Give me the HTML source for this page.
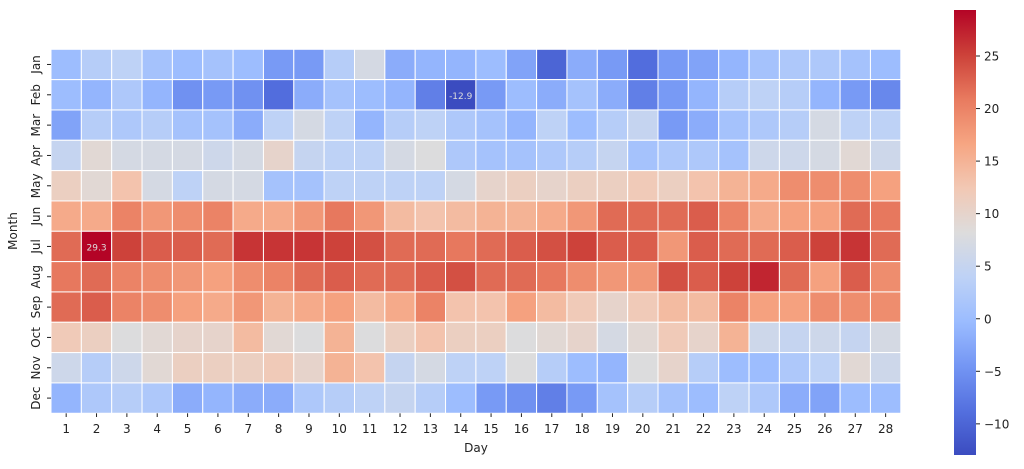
<!DOCTYPE html>
<html><head><meta charset="utf-8"><style>
html,body{margin:0;padding:0;background:#fff;}
svg text{font-family:"DejaVu Sans","Liberation Sans",sans-serif;fill:#222;}
</style></head><body>
<svg id="s" width="1024" height="464" xmlns="http://www.w3.org/2000/svg">
<defs>
<linearGradient id="cb" x1="0" y1="1" x2="0" y2="0">
<stop offset="0" stop-color="rgb(59,76,192)"/>
<stop offset="0.1" stop-color="rgb(84,112,223)"/>
<stop offset="0.2" stop-color="rgb(116,150,244)"/>
<stop offset="0.3" stop-color="rgb(155,188,255)"/>
<stop offset="0.4" stop-color="rgb(190,210,246)"/>
<stop offset="0.5" stop-color="rgb(221,220,220)"/>
<stop offset="0.6" stop-color="rgb(242,200,180)"/>
<stop offset="0.7" stop-color="rgb(246,165,130)"/>
<stop offset="0.8" stop-color="rgb(232,122,95)"/>
<stop offset="0.9" stop-color="rgb(204,65,57)"/>
<stop offset="1" stop-color="rgb(180,4,38)"/>
</linearGradient>
</defs>
<g id="cells"></g>
<rect x="954" y="10" width="22" height="445" fill="url(#cb)"/>
<g id="ax"></g>
<text x="476" y="452" font-size="12" text-anchor="middle">Day</text>
<text transform="translate(17,231) rotate(-90)" font-size="12" text-anchor="middle">Month</text>
</svg>
<script>
var D=[
[0,3,4,1,0,1,0,-4,-4,3,7,-2,-1,-1,0,-3,-10,-2,-4,-9,-4,-3,-1,1,2,2,1,0],
[0,-1,2,-1,-5,-4,-5,-9,-2,1,0,-1,-7,-12.9,-4,0,-2,1,-2,-7,-4,-1,3,4,3,-1,-4,-6],
[-3,3,2,3,1,1,-2,4,7,4,-1,3,4,2,1,-1,4,0,3,5,-4,-2,1,2,3,7,4,4],
[5,9,7,7,7,6,7,10,5,4,4,7,8,2,1,1,2,3,5,1,2,2,1,6,6,7,9,6],
[11,9,13,7,4,7,7,1,1,4,4,4,4,7,10,11,10,11,11,12,11,13,15,16,19,19,19,17],
[16,16,20,18,19,20,16,16,18,21,18,14,13,14,15,15,16,18,22,22,22,23,20,16,17,17,22,21],
[22,29.3,25,23,23,22,26,26,26,25,24,22,22,21,22,23,24,25,23,23,18,23,22,22,23,25,26,22],
[21,22,20,19,18,17,19,20,22,23,22,22,23,24,22,22,21,19,18,18,24,23,25,27,22,17,23,19],
[22,23,20,19,17,16,18,15,16,17,14,16,20,13,13,17,14,12,10,12,14,14,20,17,17,19,19,19],
[12,11,8,9,10,10,14,9,8,15,8,11,13,11,11,8,9,10,7,9,12,10,15,6,5,6,5,7],
[6,3,6,9,11,11,11,12,10,15,13,5,7,4,4,8,3,0,-1,8,10,3,0,0,2,4,9,6],
[-1,2,3,2,-2,-1,-2,-2,2,3,4,5,3,0,-4,-5,-7,-4,1,3,1,0,4,2,-2,-3,0,0]];
var C=[[59,76,192],[84,112,223],[116,150,244],[155,188,255],[190,210,246],[221,220,220],[242,200,180],[246,165,130],[232,122,95],[204,65,57],[180,4,38]];
function col(v){var t=(v+12.9)/42.2;t=Math.max(0,Math.min(1,t))*10;var i=Math.min(9,Math.floor(t)),f=t-i;var a=C[i],b=C[i+1];return 'rgb('+[0,1,2].map(k=>Math.round(a[k]+(b[k]-a[k])*f)).join(',')+')';}
var x0=51,y0=49.3,w=30.35,h=30.33,s='',a='';
var M=['Jan','Feb','Mar','Apr','May','Jun','Jul','Aug','Sep','Oct','Nov','Dec'];
for(var r=0;r<12;r++)for(var c=0;c<28;c++){s+='<rect x="'+(x0+c*w)+'" y="'+(y0+r*h)+'" width="'+w+'" height="'+h+'" fill="'+col(D[r][c])+'" stroke="#fff" stroke-width="1"/>';}
s+='<text x="'+(x0+13.5*w)+'" y="'+(y0+1.5*h+4)+'" font-size="9" text-anchor="middle" style="fill:#ddd">-12.9</text>';
s+='<text x="'+(x0+1.5*w)+'" y="'+(y0+6.5*h+4)+'" font-size="9" text-anchor="middle" style="fill:#ddd">29.3</text>';
for(var c=0;c<28;c++){var x=x0+(c+0.5)*w;a+='<line x1="'+x+'" x2="'+x+'" y1="413.3" y2="417" stroke="#222"/><text x="'+x+'" y="433" font-size="12" text-anchor="middle">'+(c+1)+'</text>';}
for(var r=0;r<12;r++){var y=y0+(r+0.5)*h;a+='<line x1="47" x2="51" y1="'+y+'" y2="'+y+'" stroke="#222"/><text transform="translate(40,'+y+') rotate(-90)" font-size="12" text-anchor="middle">'+M[r]+'</text>';}
[25,20,15,10,5,0,-5,-10].forEach(function(v){var y=56+(25-v)*10.51;a+='<line x1="976" x2="980" y1="'+y+'" y2="'+y+'" stroke="#222"/><text x="984" y="'+(y+4.5)+'" font-size="12">'+(v<0?'\u2212'+(-v):v)+'</text>';});
document.getElementById('cells').innerHTML=s;document.getElementById('ax').innerHTML=a;
</script>
</body></html>
